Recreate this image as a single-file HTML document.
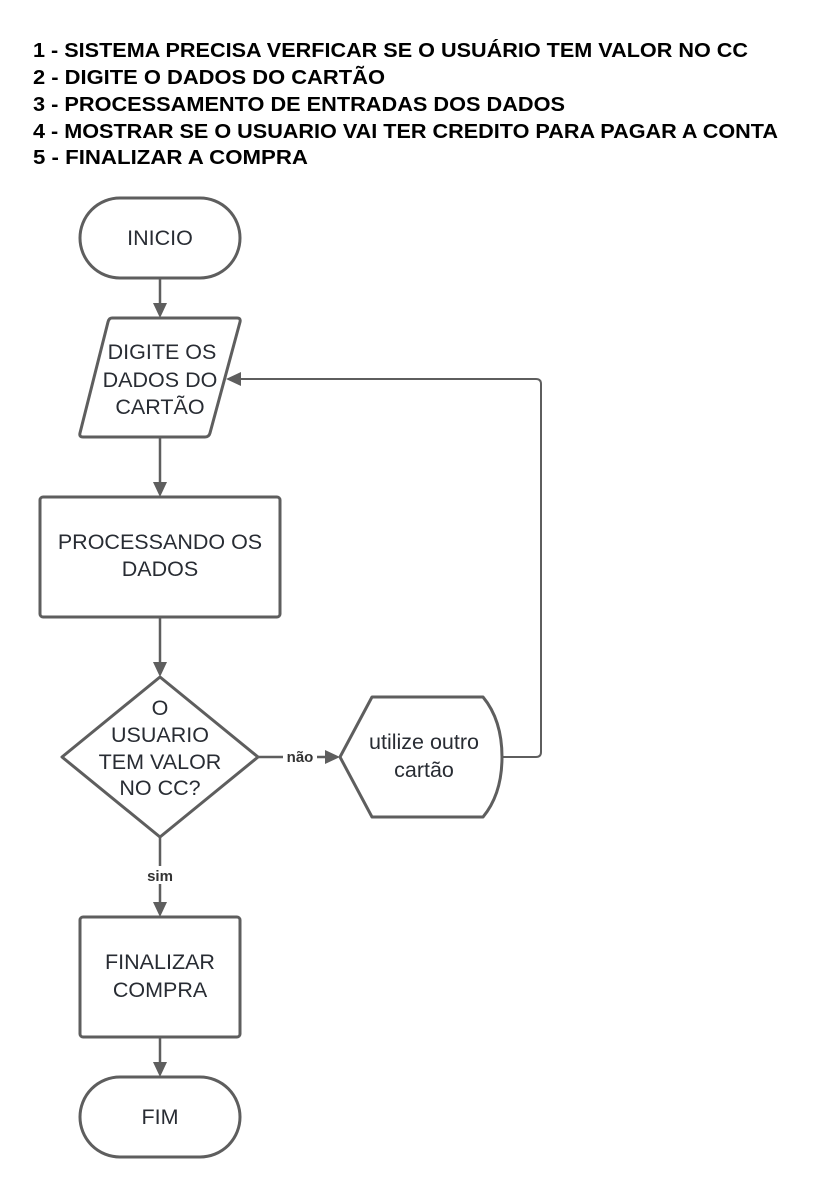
<!DOCTYPE html>
<html><head><meta charset="utf-8"><style>
html,body{margin:0;padding:0;background:#fff;}
svg{display:block;}
.t{font-family:"Liberation Sans",sans-serif;font-weight:bold;font-size:20px;fill:#000;}
.n{font-family:"Liberation Sans",sans-serif;font-size:21.5px;fill:#282c33;text-anchor:middle;}
.l{font-family:"Liberation Sans",sans-serif;font-weight:bold;font-size:15px;fill:#333;text-anchor:middle;}
.s{fill:#fff;stroke:#5e5e5e;stroke-width:3;stroke-linejoin:round;}
.c{stroke:#5e5e5e;stroke-width:2.5;fill:none;}
.a{fill:#5e5e5e;}
</style></head><body>
<svg width="824" height="1198" viewBox="0 0 824 1198" xmlns="http://www.w3.org/2000/svg">
<text class="t" x="33" y="57" textLength="715" lengthAdjust="spacingAndGlyphs">1 - SISTEMA PRECISA VERFICAR SE O USUÁRIO TEM VALOR NO CC</text>
<text class="t" x="33" y="84" textLength="352" lengthAdjust="spacingAndGlyphs">2 - DIGITE O DADOS DO CARTÃO</text>
<text class="t" x="33" y="111" textLength="532" lengthAdjust="spacingAndGlyphs">3 - PROCESSAMENTO DE ENTRADAS DOS DADOS</text>
<text class="t" x="33" y="138" textLength="745" lengthAdjust="spacingAndGlyphs">4 - MOSTRAR SE O USUARIO VAI TER CREDITO PARA PAGAR A CONTA</text>
<text class="t" x="33" y="164" textLength="275" lengthAdjust="spacingAndGlyphs">5 - FINALIZAR A COMPRA</text>

<line class="c" x1="160" y1="278" x2="160" y2="305"/>
<polygon class="a" points="153,303 167,303 160,318"/>
<line class="c" x1="160" y1="437" x2="160" y2="484"/>
<polygon class="a" points="153,482 167,482 160,497"/>
<line class="c" x1="160" y1="617" x2="160" y2="664"/>
<polygon class="a" points="153,662 167,662 160,677"/>
<line class="c" x1="160" y1="837" x2="160" y2="904"/>
<polygon class="a" points="153,902 167,902 160,917"/>
<line class="c" x1="160" y1="1037" x2="160" y2="1064"/>
<polygon class="a" points="153,1062 167,1062 160,1077"/>
<line class="c" x1="258" y1="757" x2="328" y2="757"/>
<polygon class="a" points="325,750 325,764 340,757"/>
<path class="c" d="M502,757 H536 Q541,757 541,752 V384 Q541,379 536,379 H240" style="stroke-width:2"/>
<polygon class="a" points="241,372 241,386 226,379"/>

<rect x="283" y="748" width="34" height="16" fill="#fff"/>
<text class="l" x="300" y="762">não</text>
<rect x="142" y="866" width="36" height="18" fill="#fff"/>
<text class="l" x="160" y="881">sim</text>

<rect class="s" x="80" y="198" width="160" height="80" rx="40"/>
<text class="n" x="160" y="245">INICIO</text>

<path class="s" d="M112,318 H237 Q241,318 240,322 L210,433 Q209,437 205,437 H83 Q79,437 80,433 L108,322 Q109,318 112,318 Z"/>
<text class="n" x="162" y="359">DIGITE OS</text>
<text class="n" x="160" y="387">DADOS DO</text>
<text class="n" x="160" y="414">CARTÃO</text>

<rect class="s" x="40" y="497" width="240" height="120" rx="3"/>
<text class="n" x="160" y="549">PROCESSANDO OS</text>
<text class="n" x="160" y="576">DADOS</text>

<path class="s" d="M160,677 L258,757 L160,837 L62,757 Z"/>
<text class="n" x="160" y="715">O</text>
<text class="n" x="160" y="742">USUARIO</text>
<text class="n" x="160" y="769">TEM VALOR</text>
<text class="n" x="160" y="795">NO CC?</text>

<path class="s" d="M372,697 H483 Q502,720 502,757 Q502,794 483,817 H372 L340,757 Z"/>
<text class="n" x="424" y="749">utilize outro</text>
<text class="n" x="424" y="777">cartão</text>

<rect class="s" x="80" y="917" width="160" height="120" rx="3"/>
<text class="n" x="160" y="969">FINALIZAR</text>
<text class="n" x="160" y="997">COMPRA</text>

<rect class="s" x="80" y="1077" width="160" height="80" rx="40"/>
<text class="n" x="160" y="1124">FIM</text>
</svg>
</body></html>
